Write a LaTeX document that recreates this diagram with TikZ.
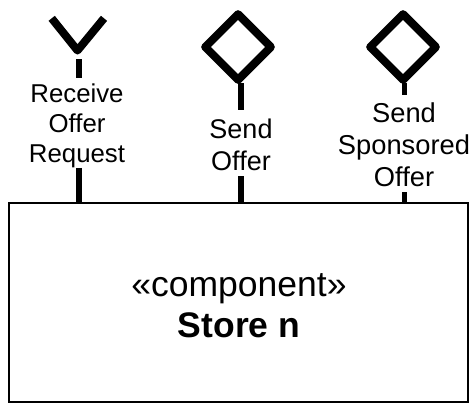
\documentclass[tikz,border=0pt]{standalone}
\usepackage{fontspec}
\setmainfont{Liberation Sans}
\usetikzlibrary{shapes.geometric}
\tikzset{
  gate/.style={diamond,draw,line width=8pt,line join=round,aspect=1,inner sep=0pt,minimum size=69pt},
  stem/.style={line width=5.6pt},
  portlabel/.style={align=center,inner xsep=0pt,inner ysep=0pt,outer ysep=6pt,anchor=base}
}
\begin{document}
\begin{tikzpicture}[x=1pt,y=-1pt]
\useasboundingbox (0,0) rectangle (476,410);

\node[draw,line width=2pt,minimum width=459pt,minimum height=199pt,inner sep=0pt] (store) at (238.75,302) {};
\node[font=\fontsize{35.5}{41.7}\selectfont,align=center,inner sep=0pt,anchor=base] (storename) at (239,337.7)
  {«component»\\ \textbf{Store n}};

\coordinate (recvtip) at (77.5,50.5);
\coordinate (recvleft) at (51.7,18.3);
\coordinate (recvright) at (104,18.3);
\draw[line width=8pt,line join=round] (recvleft) -- (recvtip) -- (recvright);

\node[gate] (send) at (238,47) {};
\node[gate] (sponsored) at (403,47) {};

\node[portlabel,outer ysep=0.5pt,font=\fontsize{25.8}{30}\selectfont] (recvlabel) at (77,162) {Receive\\Offer\\Request};
\node[portlabel,font=\fontsize{27}{32}\selectfont] (sendlabel) at (241,170) {Send\\Offer};
\node[portlabel,font=\fontsize{27.3}{32}\selectfont] (sponsoredlabel) at (404,186) {Send\\Sponsored\\Offer};

\coordinate (recvstem) at (79,59);
\coordinate (sendstem) at (241,83);
\coordinate (sponsoredstem) at (404.5,83);

\draw[stem,shorten >=4.5pt] (recvstem) -- (recvstem |- recvlabel.north);
\draw[stem] (recvstem |- recvlabel.south) -- (recvstem |- store.north);
\draw[stem,shorten >=2pt] (sendstem) -- (sendstem |- sendlabel.north);
\draw[stem] (sendstem |- sendlabel.south) -- (sendstem |- store.north);
\draw[stem,shorten >=1pt] (sponsoredstem) -- (sponsoredstem |- sponsoredlabel.north);
\draw[stem] (sponsoredstem |- sponsoredlabel.south) -- (sponsoredstem |- store.north);
\end{tikzpicture}
\end{document}
